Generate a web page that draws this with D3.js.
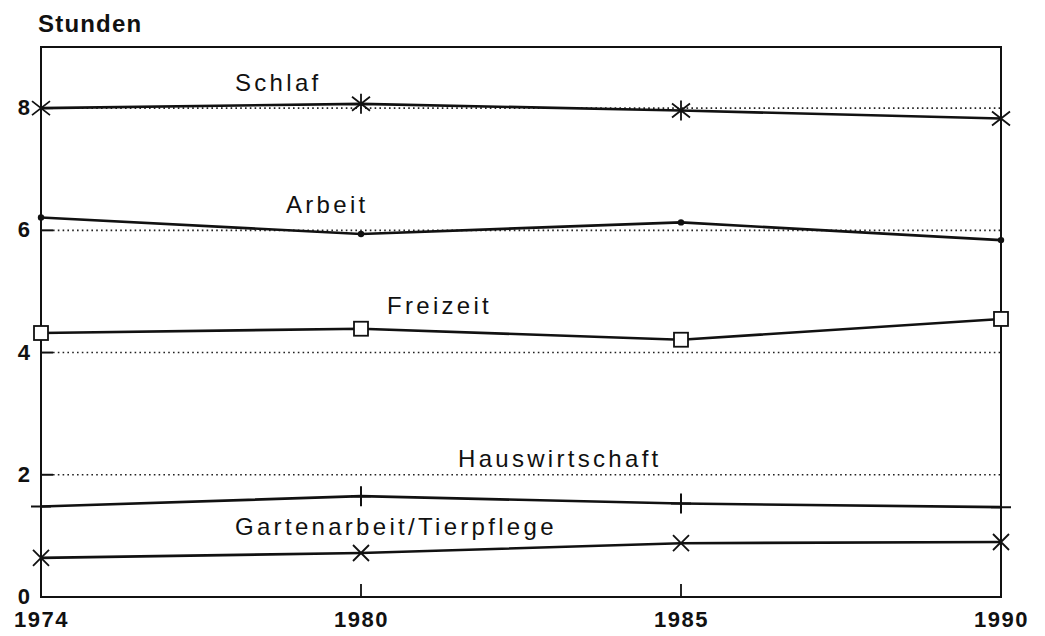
<!DOCTYPE html>
<html>
<head>
<meta charset="utf-8">
<script src="https://cdn.jsdelivr.net/npm/d3@7"></script>
<style>
  body { margin: 0; background: #fff; }
  svg { display: block; }
  .lbl { font-family: "Liberation Sans", Arial, sans-serif; font-size: 24px; letter-spacing: 3.3px; fill: #111; }
  .axis text { font-family: "Liberation Sans", Arial, sans-serif; font-weight: bold; fill: #111; }
</style>
</head>
<body>
<div id="chart"></div>
<script>
// Zeitverwendung (Stunden pro Tag)
var years = ["1974", "1980", "1985", "1990"];
var schlaf = [8.0, 8.07, 7.96, 7.83];
var arbeit = [6.21, 5.94, 6.13, 5.84];
var freizeit = [4.32, 4.39, 4.21, 4.55];
var hauswirtschaft = [1.48, 1.65, 1.53, 1.47];
var garten = [0.64, 0.72, 0.88, 0.90];
var yTicks = [0, 2, 4, 6, 8];
var gridValues = [2, 4, 6, 8];
var seriesNames = ["Schlaf", "Arbeit", "Freizeit", "Hauswirtschaft", "Gartenarbeit/Tierpflege"];

var width = 1045, height = 636;
var mLeft = 41, mRight = 1001, mTop = 47, mBottom = 597;

var svg = d3.select("#chart").append("svg")
    .attr("width", width)
    .attr("height", height);

var x = d3.scalePoint().domain(years).range([mLeft, mRight]);
var y = d3.scaleLinear().domain([0, 9]).range([mBottom, mTop]);

// dotted grid + short solid ticks
gridValues.forEach(function(v) {
    svg.append("line")
        .attr("x1", mLeft + 12).attr("x2", mRight)
        .attr("y1", y(v)).attr("y2", y(v))
        .attr("stroke", "#222").attr("stroke-width", 1.6)
        .attr("stroke-dasharray", "1.6,3.2");
    svg.append("line")
        .attr("x1", mLeft).attr("x2", mLeft + 12)
        .attr("y1", y(v)).attr("y2", y(v))
        .attr("stroke", "#111").attr("stroke-width", 2);
});

// bottom ticks at inner years
years.slice(1, -1).forEach(function(yr) {
    svg.append("line")
        .attr("x1", x(yr)).attr("x2", x(yr))
        .attr("y1", mBottom).attr("y2", mBottom - 13)
        .attr("stroke", "#111").attr("stroke-width", 1.8);
});

// frame
svg.append("rect")
    .attr("x", mLeft).attr("y", mTop)
    .attr("width", mRight - mLeft).attr("height", mBottom - mTop)
    .attr("fill", "none").attr("stroke", "#111").attr("stroke-width", 2);

// axes
var yAxis = svg.append("g").attr("class", "axis")
    .attr("transform", "translate(" + mLeft + ",0)")
    .call(d3.axisLeft(y).tickValues(yTicks).tickSize(0).tickPadding(11));
yAxis.select(".domain").remove();
yAxis.selectAll("text").attr("font-size", 22).attr("dy", "0.3em");

var xAxis = svg.append("g").attr("class", "axis")
    .attr("transform", "translate(0," + mBottom + ")")
    .call(d3.axisBottom(x).tickSize(0));
xAxis.select(".domain").remove();
xAxis.selectAll("text").attr("font-size", 22).attr("letter-spacing", "1.5px")
    .attr("y", 30).attr("dy", 0);

svg.append("text")
    .attr("x", 38).attr("y", 32)
    .attr("font-family", "Liberation Sans, Arial, sans-serif")
    .attr("font-weight", "bold").attr("font-size", 24)
    .attr("letter-spacing", "1.2px")
    .attr("fill", "#111")
    .text("Stunden");

// series
var lineGen = d3.line()
    .x(function(d) { return x(d.year); })
    .y(function(d) { return y(d.value); });

function toPoints(vals) {
    return vals.map(function(v, i) { return {year: years[i], value: v}; });
}

var allSeries = [
    {name: seriesNames[0], values: schlaf, marker: "star"},
    {name: seriesNames[1], values: arbeit, marker: "dot"},
    {name: seriesNames[2], values: freizeit, marker: "square"},
    {name: seriesNames[3], values: hauswirtschaft, marker: "plus"},
    {name: seriesNames[4], values: garten, marker: "cross"}
];

allSeries.forEach(function(s) {
    var pts = toPoints(s.values);
    svg.append("path")
        .datum(pts)
        .attr("fill", "none")
        .attr("stroke", "#111")
        .attr("stroke-width", 2.6)
        .attr("stroke-linejoin", "round")
        .attr("d", lineGen);

    var g = svg.append("g").attr("stroke", "#111").attr("fill", "none");
    pts.forEach(function(p) {
        var cx = x(p.year), cy = y(p.value);
        if (s.marker === "star") {
            g.append("path").attr("stroke-width", 1.8)
                .attr("d", "M" + cx + "," + (cy - 10) + "V" + (cy + 10) +
                    "M" + (cx - 9) + "," + (cy - 7) + "L" + (cx + 9) + "," + (cy + 7) +
                    "M" + (cx - 9) + "," + (cy + 7) + "L" + (cx + 9) + "," + (cy - 7));
        } else if (s.marker === "dot") {
            g.append("circle").attr("cx", cx).attr("cy", cy).attr("r", 3.2)
                .attr("fill", "#111").attr("stroke", "none");
        } else if (s.marker === "square") {
            g.append("rect").attr("x", cx - 7).attr("y", cy - 7)
                .attr("width", 14).attr("height", 14)
                .attr("fill", "#fff").attr("stroke-width", 1.8);
        } else if (s.marker === "plus") {
            g.append("path").attr("stroke-width", 2)
                .attr("d", "M" + cx + "," + (cy - 10) + "V" + (cy + 10) +
                    "M" + (cx - 10) + "," + cy + "H" + (cx + 10));
        } else if (s.marker === "cross") {
            g.append("path").attr("stroke-width", 1.8)
                .attr("d", "M" + (cx - 8) + "," + (cy - 8) + "L" + (cx + 8) + "," + (cy + 8) +
                    "M" + (cx - 8) + "," + (cy + 8) + "L" + (cx + 8) + "," + (cy - 8));
        }
    });
});

// series labels
var labelPos = [
    {x: 235, y: 91},
    {x: 286, y: 213},
    {x: 387, y: 314},
    {x: 458, y: 467},
    {x: 235, y: 535}
];
seriesNames.forEach(function(n, i) {
    svg.append("text")
        .attr("class", "lbl")
        .attr("x", labelPos[i].x)
        .attr("y", labelPos[i].y)
        .text(n);
});
</script>
</body>
</html>
